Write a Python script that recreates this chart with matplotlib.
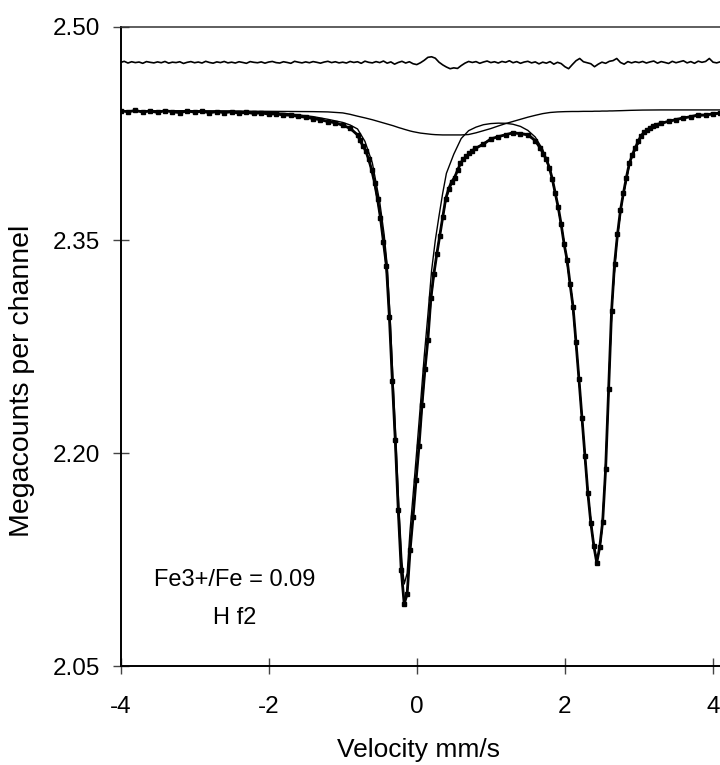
import numpy as np
import matplotlib.pyplot as plt

plt.rcParams['font.family'] = ['Liberation Sans', 'DejaVu Sans']

# measured spectrum (velocity mm/s, Megacounts)
vel_data = [-4.0, -3.9, -3.8, -3.7, -3.6, -3.5, -3.4, -3.3, -3.2, -3.1,
            -3.0, -2.9, -2.8, -2.7, -2.6, -2.5, -2.4, -2.3, -2.2, -2.1,
            -2.0, -1.9, -1.8, -1.7, -1.6, -1.5, -1.4, -1.3, -1.2, -1.1,
            -1.0, -0.9, -0.8,
            -0.77, -0.73, -0.69, -0.65, -0.61, -0.57, -0.53, -0.49, -0.45, -0.41,
            -0.37, -0.33, -0.29, -0.25, -0.21, -0.17, -0.13, -0.09, -0.05, -0.01,
            0.03, 0.07, 0.11, 0.15, 0.19, 0.23, 0.27, 0.31, 0.35, 0.39,
            0.43, 0.47, 0.51, 0.55, 0.59, 0.63, 0.67, 0.71, 0.75, 0.79,
            0.9, 1.0, 1.1, 1.2, 1.3, 1.4, 1.5, 1.6,
            1.67, 1.71, 1.75, 1.79, 1.83, 1.87, 1.91, 1.95, 1.99, 2.03,
            2.07, 2.11, 2.15, 2.19, 2.23, 2.27, 2.31, 2.35, 2.39, 2.43,
            2.47, 2.51, 2.55, 2.59, 2.63, 2.67, 2.71, 2.75, 2.79, 2.83,
            2.87, 2.91, 2.95, 2.99, 3.03, 3.07, 3.11, 3.15, 3.19, 3.23,
            3.3, 3.4, 3.5, 3.6, 3.7, 3.8, 3.9, 4.0, 4.1]
counts = [2.4410, 2.4403, 2.4412, 2.4401, 2.4409, 2.4398, 2.4411, 2.4403, 2.4397, 2.4409,
          2.4400, 2.4407, 2.4396, 2.4404, 2.4397, 2.4403, 2.4393, 2.4399, 2.4391, 2.4396,
          2.4386, 2.4389, 2.4380, 2.4379, 2.4370, 2.4365, 2.4355, 2.4347, 2.4334, 2.4326,
          2.4308, 2.4287, 2.4240,
          2.4205, 2.4165, 2.4128, 2.4070, 2.3995, 2.3905, 2.3790, 2.3655, 2.3490, 2.3320,
          2.2960, 2.2510, 2.2090, 2.1600, 2.1180, 2.0940, 2.1010, 2.1320, 2.1555, 2.1810,
          2.2050, 2.2340, 2.2590, 2.2800, 2.3090, 2.3260, 2.3400, 2.3530, 2.3660, 2.3790,
          2.3860, 2.3910, 2.3940, 2.3990, 2.4040, 2.4070, 2.4090, 2.4110, 2.4130, 2.4145,
          2.4175, 2.4212, 2.4228, 2.4241, 2.4256, 2.4249, 2.4243, 2.4200,
          2.4145, 2.4105, 2.4068, 2.4010, 2.3930, 2.3830, 2.3730, 2.3610, 2.3470, 2.3360,
          2.3190, 2.3030, 2.2780, 2.2520, 2.2250, 2.1980, 2.1720, 2.1510, 2.1350, 2.1230,
          2.1340, 2.1520, 2.1890, 2.2450, 2.3000, 2.3330, 2.3540, 2.3710, 2.3830, 2.3940,
          2.4040, 2.4100, 2.4150, 2.4195, 2.4235, 2.4258, 2.4275, 2.4290, 2.4303, 2.4312,
          2.4322, 2.4336, 2.4348, 2.4360, 2.4368, 2.4382, 2.4379, 2.4390, 2.4394]

# fitted curves: total, Fe2+ doublet, Fe3+ doublet
vel_fit = [-4.0, -3.5, -3.0, -2.5, -2.0, -1.7, -1.4, -1.2, -1.0, -0.9,
           -0.8, -0.7, -0.6, -0.5, -0.44, -0.40, -0.36, -0.32, -0.28, -0.24,
           -0.20, -0.17, -0.13, -0.09, -0.05, 0.0, 0.05, 0.10, 0.15, 0.20,
           0.25, 0.30, 0.35, 0.40, 0.50, 0.60, 0.70, 0.80, 0.90, 1.00,
           1.10, 1.20, 1.30, 1.40, 1.50, 1.60, 1.70, 1.80, 1.90, 2.00,
           2.10, 2.18, 2.25, 2.31, 2.37, 2.40, 2.43, 2.47, 2.50, 2.54,
           2.57, 2.60, 2.64, 2.70, 2.77, 2.88, 3.05, 3.3, 3.6, 4.0, 4.1]
fit_total = [2.4408, 2.4406, 2.4404, 2.4400, 2.4390, 2.4378, 2.4358, 2.4337, 2.4308, 2.4283,
             2.4243, 2.4145, 2.3980, 2.3690, 2.3450, 2.3230, 2.2860, 2.2400, 2.1950, 2.1480,
             2.1110, 2.0950, 2.1020, 2.1320, 2.1560, 2.1870, 2.2190, 2.2520, 2.2810, 2.3120,
             2.3330, 2.3500, 2.3660, 2.3800, 2.3935, 2.4045, 2.4105, 2.4148, 2.4182, 2.4210,
             2.4230, 2.4243, 2.4250, 2.4248, 2.4235, 2.4197, 2.4125, 2.3990, 2.3755, 2.3450,
             2.3080, 2.2590, 2.2115, 2.1720, 2.1430, 2.1320, 2.1235, 2.1330, 2.1460, 2.1800,
             2.2160, 2.2590, 2.3080, 2.3490, 2.3770, 2.4055, 2.4247, 2.4320, 2.4360, 2.4385, 2.4390]
fit_fe2 = [2.4410, 2.4410, 2.4409, 2.4407, 2.4399, 2.4388, 2.4369, 2.4350, 2.4328, 2.4310,
           2.4282, 2.4195, 2.4043, 2.3768, 2.3537, 2.3323, 2.2959, 2.2505, 2.2062, 2.1599,
           2.1235, 2.1080, 2.1156, 2.1462, 2.1707, 2.2022, 2.2347, 2.2680, 2.2973, 2.3286,
           2.3498, 2.3669, 2.3830, 2.3970, 2.4105, 2.4215, 2.4270, 2.4295, 2.4312, 2.4320,
           2.4323, 2.4322, 2.4315, 2.4300, 2.4272, 2.4225, 2.4138, 2.4000, 2.3758, 2.3452,
           2.3082, 2.2592, 2.2117, 2.1722, 2.1432, 2.1322, 2.1237, 2.1332, 2.1462, 2.1802,
           2.2162, 2.2592, 2.3082, 2.3492, 2.3772, 2.4057, 2.4249, 2.4322, 2.4362, 2.4387, 2.4392]
fit_fe3 = [2.4410, 2.4410, 2.4409, 2.4408, 2.4406, 2.4405, 2.4404, 2.4402, 2.4395, 2.4385,
           2.4372, 2.4360, 2.4347, 2.4332, 2.4323, 2.4317, 2.4311, 2.4305, 2.4298, 2.4291,
           2.4285, 2.4280, 2.4274, 2.4268, 2.4263, 2.4258, 2.4253, 2.4250, 2.4247, 2.4244,
           2.4242, 2.4241, 2.4240, 2.4240, 2.4240, 2.4240, 2.4243, 2.4255, 2.4270, 2.4285,
           2.4303, 2.4320, 2.4335, 2.4350, 2.4365, 2.4378, 2.4390, 2.4398, 2.4402, 2.4404,
           2.4405, 2.4405, 2.4406, 2.4406, 2.4406, 2.4407, 2.4407, 2.4407, 2.4408, 2.4408,
           2.4408, 2.4409, 2.4409, 2.4410, 2.4411, 2.4413, 2.4415, 2.4416, 2.4416, 2.4416, 2.4416]

# residual (offset), one value per 0.05 mm/s from -4.00 to 4.10
vel_res = np.round(np.arange(-4.0, 4.1001, 0.05), 2)
residual = [2.4750, 2.4758, 2.4746, 2.4755, 2.4749, 2.4753, 2.4744, 2.4756, 2.4751, 2.4747,
            2.4754, 2.4748, 2.4757, 2.4745, 2.4752, 2.4749, 2.4755, 2.4743, 2.4751, 2.4756,
            2.4748, 2.4753, 2.4746, 2.4758, 2.4750, 2.4745, 2.4754, 2.4749, 2.4757, 2.4747,
            2.4752, 2.4746, 2.4755, 2.4750, 2.4744, 2.4756, 2.4751, 2.4748, 2.4754, 2.4745,
            2.4753, 2.4757, 2.4749, 2.4746, 2.4755, 2.4750, 2.4744, 2.4758, 2.4752, 2.4747,
            2.4754, 2.4748, 2.4756, 2.4751, 2.4745, 2.4753, 2.4758, 2.4749, 2.4755, 2.4747,
            2.4752, 2.4746, 2.4757, 2.4750, 2.4755, 2.4744, 2.4759, 2.4751, 2.4747, 2.4756,
            2.4749, 2.4760, 2.4745, 2.4754, 2.4738, 2.4750, 2.4758, 2.4746, 2.4755, 2.4741,
            2.4735, 2.4748, 2.4765, 2.4786, 2.4790, 2.4780, 2.4752, 2.4733, 2.4718, 2.4706,
            2.4712, 2.4708, 2.4728, 2.4745, 2.4757, 2.4750, 2.4756, 2.4744, 2.4753, 2.4760,
            2.4749, 2.4755, 2.4746, 2.4757, 2.4751, 2.4762, 2.4748, 2.4756, 2.4744, 2.4753,
            2.4758, 2.4747, 2.4754, 2.4740, 2.4752, 2.4745, 2.4756, 2.4738, 2.4751, 2.4742,
            2.4720, 2.4706, 2.4735, 2.4762, 2.4778, 2.4755, 2.4748, 2.4741, 2.4720, 2.4738,
            2.4752, 2.4744, 2.4758, 2.4763, 2.4778, 2.4750, 2.4738, 2.4756, 2.4747, 2.4755,
            2.4749, 2.4757, 2.4746, 2.4754, 2.4760, 2.4745, 2.4756, 2.4750, 2.4743, 2.4758,
            2.4748, 2.4755, 2.4762, 2.4747, 2.4756, 2.4744, 2.4759, 2.4751, 2.4757, 2.4778,
            2.4752, 2.4747, 2.4755]

y_ticks = [2.05, 2.20, 2.35, 2.50]
x_ticks = [-4, -2, 0, 2, 4]

fig = plt.figure(figsize=(7.2, 7.65), dpi=100)
ax = fig.add_axes([0.1674, 0.1288, 0.8332, 0.836])

ax.plot(vel_res, residual, color='black', lw=1.2)
ax.plot(vel_fit, fit_fe3, color='black', lw=1.0)
ax.plot(vel_fit, fit_fe2, color='black', lw=1.0)
ax.plot(vel_fit, fit_total, color='black', lw=1.0)
ax.plot(vel_data, counts, color='black', lw=2.0, marker='s', ms=2.3)

ax.set_xlim(-4, 4.1)
ax.set_ylim(2.05, 2.50)
ax.set_xticks(x_ticks)
ax.set_xticklabels([str(t) for t in x_ticks])
ax.set_yticks(y_ticks)
ax.set_yticklabels(['%.2f' % t for t in y_ticks])

ax.spines['right'].set_visible(False)
for s in ['left', 'bottom']:
    ax.spines[s].set_linewidth(1.4)
ax.spines['top'].set_linewidth(1.1)
ax.spines['top'].set_color('#333333')

ax.tick_params(axis='both', direction='inout', length=11, width=1.0,
               color='#444444', labelsize=17.5)
ax.tick_params(axis='x', pad=16)
ax.tick_params(axis='y', pad=9)

ax.set_xlabel('Velocity mm/s', fontsize=19)
ax.set_ylabel('Megacounts per channel', fontsize=20.5)
ax.xaxis.set_label_coords(0.496, -0.112)
ax.yaxis.set_label_coords(-0.1425, 0.446)

ax.text(-2.465, 2.111, 'Fe3+/Fe = 0.09', fontsize=17, ha='center', va='center')
ax.text(-2.465, 2.084, 'H f2', fontsize=17, ha='center', va='center')

fig.savefig('out.png', dpi=100)
